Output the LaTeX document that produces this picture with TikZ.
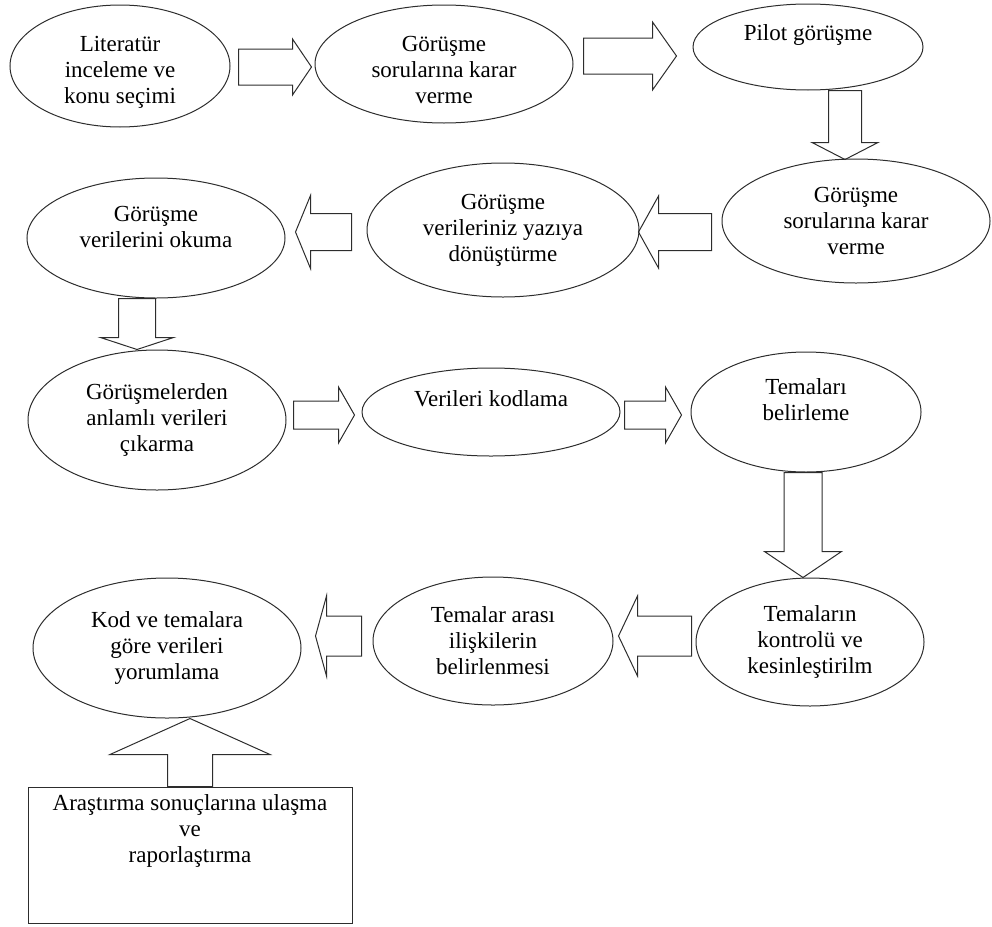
\documentclass[tikz,border=0pt]{standalone}
\usepackage{fontspec}
\setmainfont{Liberation Serif}
\usetikzlibrary{shapes.geometric, positioning, calc}
\definecolor{lineblack}{RGB}{45,45,45}

% hollow block arrow: from, to, shaft half width, head half width, head length
\newcommand{\blockarrow}[5]{%
  \coordinate (ba-s) at (#1);
  \coordinate (ba-e) at (#2);
  \coordinate (ba-h) at ($(ba-e)!#5pt!(ba-s)$);
  \draw[blockarr] ($(ba-s)!#3pt!90:(ba-e)$) -- ($(ba-h)!#3pt!90:(ba-e)$)
    -- ($(ba-h)!#4pt!90:(ba-e)$) -- (ba-e)
    -- ($(ba-h)!#4pt!-90:(ba-e)$) -- ($(ba-h)!#3pt!-90:(ba-e)$)
    -- ($(ba-s)!#3pt!-90:(ba-e)$) -- cycle;
}

\begin{document}
\begin{tikzpicture}[
  x=1pt, y=-1pt,
  every node/.style={font=\fontsize{23}{26}\selectfont},
  stepnode/.style={ellipse, draw=lineblack, line width=1pt, inner sep=0pt, align=center},
  reportbox/.style={rectangle, draw=lineblack, line width=1pt, inner sep=0pt, align=center,
    minimum width=324, minimum height=136},
  blockarr/.style={draw=lineblack, line width=1pt, line join=miter},
]
\useasboundingbox (0,0) rectangle (992,926);

%% Row 1
\node[stepnode, minimum width=220, minimum height=122] (lit) at (120,66)
  {\strut\\[-16pt]Literatür\\inceleme ve\\konu seçimi};
\node[stepnode, minimum width=258, minimum height=118] (gor1) at (444,64)
  {\strut\\[-16pt]Görüşme\\sorularına karar\\verme};
\node[stepnode, minimum width=230, minimum height=86] (pilot) at (808,47)
  {Pilot görüşme\\[-5pt]\strut};

%% Row 2
\node[stepnode, minimum width=268, minimum height=124] (gor2) at (856,221)
  {Görüşme\\sorularına karar\\verme};
\node[stepnode, minimum width=272, minimum height=134] (yazi) at (503,230)
  {Görüşme\\verileriniz yazıya\\dönüştürme};
\node[stepnode, minimum width=258, minimum height=120] (okuma) at (156,238)
  {Görüşme\\verilerini okuma\\[-11pt]\strut};

%% Row 3
\node[stepnode, minimum width=258, minimum height=140] (cikar) at (157,420)
  {Görüşmelerden\\anlamlı verileri\\çıkarma};
\node[stepnode, minimum width=258, minimum height=88] (kodla) at (491,412)
  {Verileri kodlama\\[-7pt]\strut};
\node[stepnode, minimum width=230, minimum height=120] (tema) at (806,412)
  {Temaları\\belirleme\\[-9pt]\strut};

%% Row 4
\node[stepnode, minimum width=228, minimum height=128] (kontrol) at (810,642)
  {Temaların\\kontrolü ve\\kesinleştirilm};
\node[stepnode, minimum width=240, minimum height=128] (iliski) at (493,641)
  {Temalar arası\\ilişkilerin\\belirlenmesi};
\node[stepnode, minimum width=268, minimum height=140] (yorum) at (167,648)
  {Kod ve temalara\\göre verileri\\yorumlama};

%% Report box
\node[reportbox] (rapor) at (190,855)
  {Araştırma sonuçlarına ulaşma\\ve\\raporlaştırma\\\strut\\[-6pt]\strut};

%% Block arrows
\blockarrow{$(lit.east)+(8,1)$}{$(gor1.west)+(-3,3)$}{18}{28}{19}
\blockarrow{$(gor1.east)+(10,-8)$}{$(pilot.west)+(-16,9)$}{18}{34}{24}
\blockarrow{$(pilot.south)+(37,0)$}{$(gor2.north)+(-11,1)$}{16.5}{33}{17}
\blockarrow{$(gor2.west)+(-10,11)$}{$(yazi.east)+(-1,2)$}{18.5}{36}{20}
\blockarrow{$(yazi.west)+(-15,2)$}{$(okuma.east)+(10,-6)$}{18.5}{36.5}{15}
\blockarrow{$(okuma.south)+(-19,0)$}{$(cikar.north)+(-20,0)$}{18.5}{36.5}{12}
\blockarrow{$(cikar.east)+(7,-5)$}{$(kodla.west)+(-7,3)$}{14}{28}{16}
\blockarrow{$(kodla.east)+(4,3)$}{$(tema.west)+(-9,3)$}{14}{28}{16}
\blockarrow{$(tema.south)+(-3,0)$}{$(kontrol.north)+(-7,0)$}{19}{38.5}{26}
\blockarrow{$(kontrol.west)+(-4,-6)$}{$(iliski.east)+(5,-5)$}{20}{40}{19}
\blockarrow{$(iliski.west)+(-11,-5)$}{$(yorum.east)+(14,-12)$}{20}{40}{11}
\blockarrow{$(rapor.north)$}{$(yorum.south)+(23,0)$}{22.5}{80}{36}

\end{tikzpicture}
\end{document}
